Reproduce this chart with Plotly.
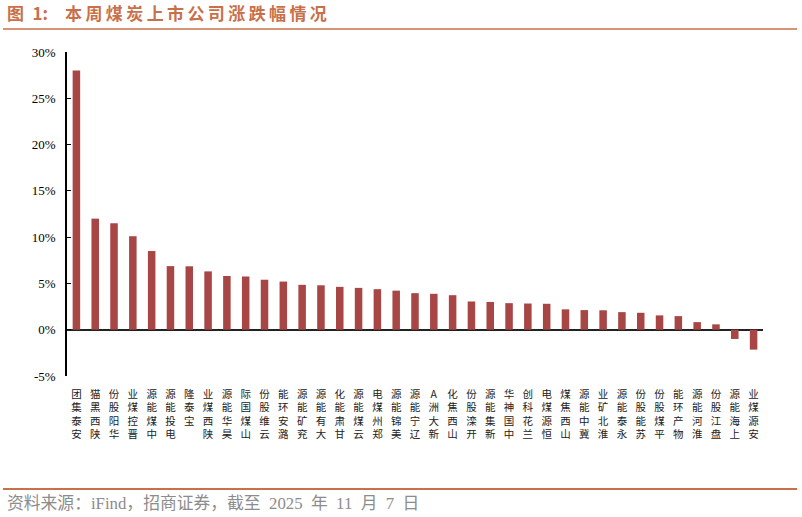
import plotly.graph_objects as go

# company names and weekly change (%)
companies = [
    "安泰集团", "陕西黑猫", "华阳股份", "晋控煤业", "中煤能源", "电投能源", "宝泰隆",
    "陕西煤业", "昊华能源", "山煤国际", "云维股份", "潞安环能", "兖矿能源", "大有能源",
    "甘肃能化", "云煤能源", "郑州煤电", "美锦能源", "辽宁能源", "新大洲A", "山西焦化",
    "开滦股份", "新集能源", "中国神华", "兰花科创", "恒源煤电", "山西焦煤", "冀中能源",
    "淮北矿业", "永泰能源", "苏能股份", "平煤股份", "物产环能", "淮河能源", "盘江股份",
    "上海能源", "安源煤业",
]
changes = [
    28.0, 12.0, 11.5, 10.1, 8.5, 6.87, 6.85,
    6.3, 5.8, 5.75, 5.4, 5.2, 4.85, 4.8,
    4.63, 4.52, 4.38, 4.22, 3.95, 3.88, 3.73,
    3.05, 3.0, 2.87, 2.83, 2.8, 2.2, 2.12,
    2.1, 1.9, 1.83, 1.55, 1.47, 0.82, 0.58,
    -1.0, -2.15,
]
y_ticks = [-5, 0, 5, 10, 15, 20, 25, 30]
y_tick_text = ["-5%", "0%", "5%", "10%", "15%", "20%", "25%", "30%"]

# stacked vertical labels, read bottom to top
labels = ["<br>".join(reversed(name)) for name in companies]

serif = "Liberation Serif, Noto Sans CJK SC, serif"
accent = "#C8704A"

fig = go.Figure(go.Bar(
    x=labels,
    y=changes,
    marker=dict(color="#A84646", line=dict(width=0)),
    width=0.4,
))

fig.update_layout(
    width=802,
    height=517,
    margin=dict(l=67, r=39, t=52, b=141),
    plot_bgcolor="white",
    paper_bgcolor="white",
    showlegend=False,
    font=dict(family=serif, color="black"),
)

fig.update_xaxes(
    type="category",
    automargin=False,
    showline=False,
    showgrid=False,
    ticks="",
    tickangle=0,
    tickfont=dict(size=10.5, family="Noto Sans CJK SC", color="#222"),
    ticklabelstandoff=10,
)

fig.update_yaxes(
    automargin=False,
    range=[-5, 30],
    tickmode="array",
    tickvals=y_ticks,
    ticktext=y_tick_text,
    showgrid=False,
    showline=True,
    linecolor="black",
    linewidth=1.5,
    ticks="inside",
    ticklen=4,
    tickwidth=1.2,
    tickcolor="black",
    zeroline=True,
    zerolinecolor="#222",
    zerolinewidth=1.8,
    tickfont=dict(size=13, family="Liberation Serif, serif", color="black"),
    ticklabelstandoff=7,
)

# header and footer
title = "\u2009".join("本周煤炭上市公司涨跌幅情况")
fig.add_annotation(
    xref="paper", yref="paper", x=-0.089, y=1.078,
    xanchor="left", yanchor="bottom",
    text="<b>图\u20021:\u2003" + title + "</b>",
    showarrow=False,
    font=dict(size=17, family="Noto Sans CJK SC", color=accent),
)
fig.add_shape(type="line", xref="paper", yref="paper",
              x0=-0.092, x1=1.049, y0=1.071, y1=1.071,
              line=dict(color=accent, width=1.3))
fig.add_shape(type="line", xref="paper", yref="paper",
              x0=-0.092, x1=1.049, y0=-0.349, y1=-0.349,
              line=dict(color=accent, width=2))
fig.add_annotation(
    xref="paper", yref="paper", x=-0.089, y=-0.358,
    xanchor="left", yanchor="top",
    text="资料来源：iFind，招商证券，截至\u20022025\u2002年\u200211\u2002月\u20027\u2002日",
    showarrow=False,
    font=dict(size=16.8, family=serif, color="#8c8c8c"),
)

# drop the default page margin so the figure sits at the window corner
fig.write_html(
    "out.html",
    config={"displayModeBar": False},
    post_script="document.body.style.margin='0';",
)
